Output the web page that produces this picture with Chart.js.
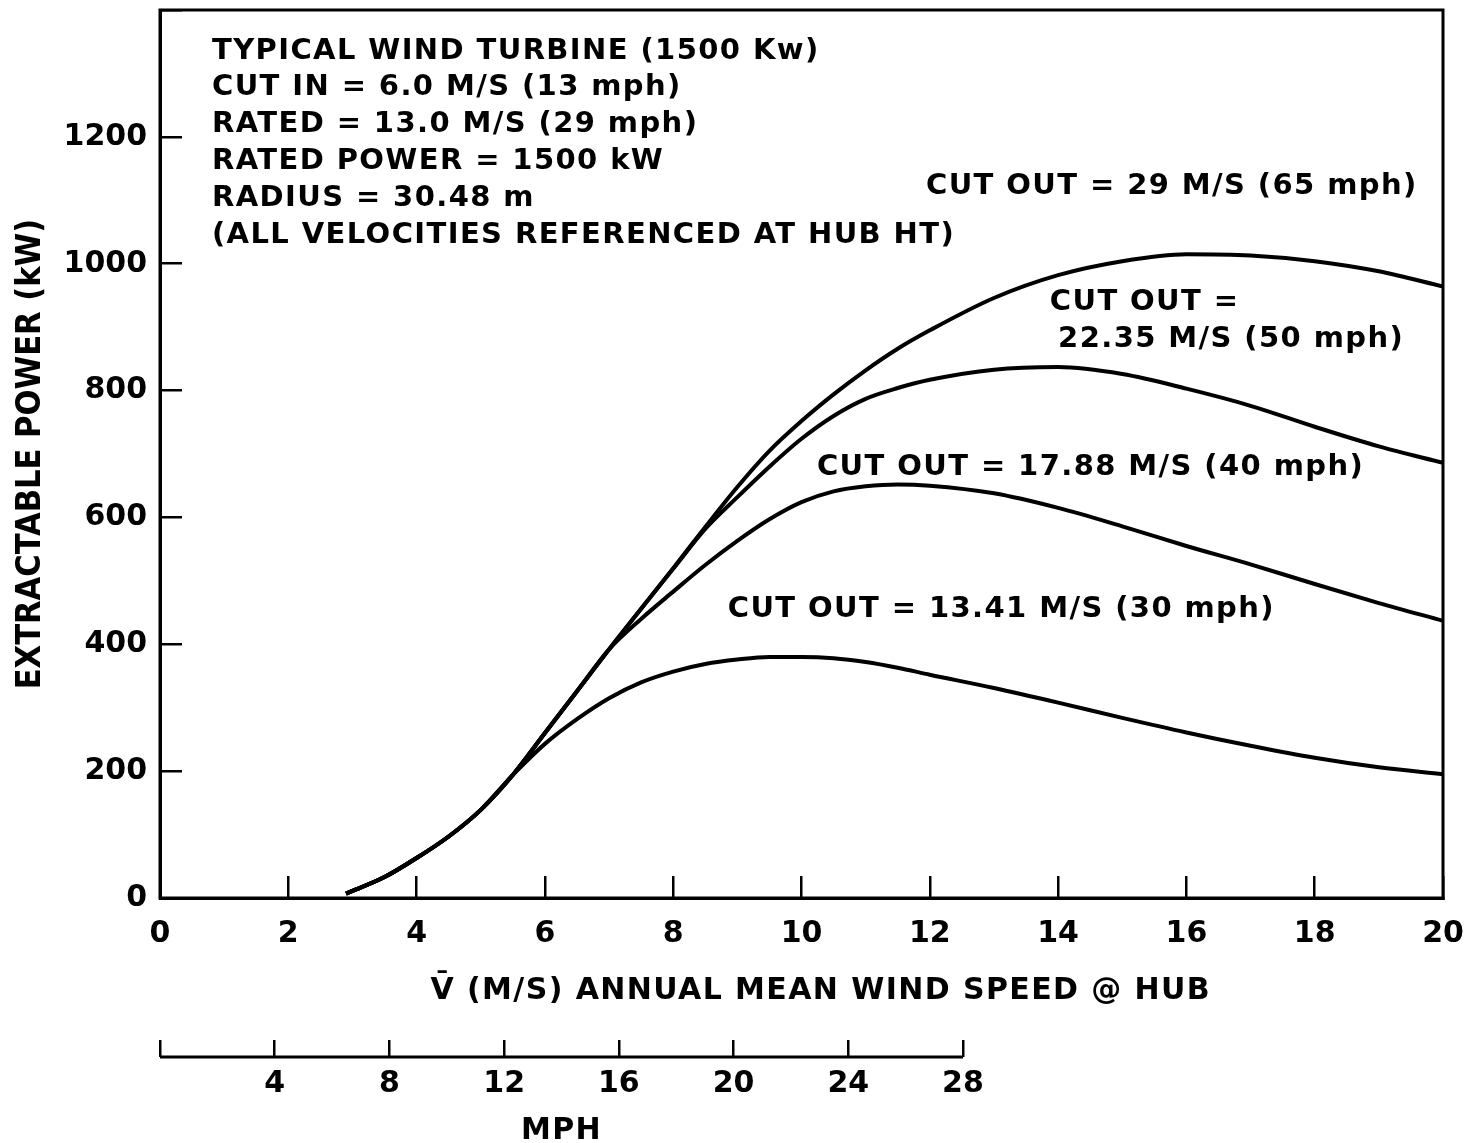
<!DOCTYPE html>
<html>
<head>
<meta charset="utf-8">
<title>Extractable power vs annual mean wind speed</title>
<script src="https://cdn.jsdelivr.net/npm/chart.js@4.4.1/dist/chart.umd.min.js"></script>
<style>
  html, body { margin: 0; padding: 0; background: #fff; }
  #wrap { width: 1464px; height: 1143px; }
</style>
</head>
<body>
<div id="wrap"><canvas id="chart" width="1464" height="1143"></canvas></div>
<script>
// annual mean wind speed at hub (m/s)
const speeds = [2.9, 3.5, 4, 4.5, 5, 5.5, 6, 6.5, 7, 7.5, 8, 8.5, 9, 9.5, 10, 10.5, 11, 11.5, 12, 13, 14, 15, 16, 17, 18, 19, 20];

// extractable power (kW) for each cut-out speed
const power30 = [7, 33, 63, 97, 139, 194, 243, 282, 315, 340, 357, 369, 376, 380, 380, 378, 372, 363, 352, 331, 308, 284, 261, 240, 221, 206, 195];
const power40 = [7, 33, 63, 97, 139, 194, 260, 326, 392, 440, 483, 525, 563, 597, 624, 641, 649, 652, 650, 638, 615, 586, 555, 526, 495, 465, 437];
const power50 = [7, 33, 63, 97, 139, 194, 260, 326, 392, 456, 519, 582, 632, 680, 724, 760, 787, 804, 817, 833, 837, 826, 803, 776, 743, 712, 686];
const power65 = [7, 33, 63, 97, 139, 194, 260, 326, 392, 456, 520, 585, 648, 705, 752, 794, 832, 866, 895, 946, 982, 1004, 1015, 1013, 1004, 988, 964];

const seriesNames = ['13.41 M/S', '17.88 M/S', '22.35 M/S', '29 M/S'];
const mphTicks = [0, 4, 8, 12, 16, 20, 24, 28];
const MPH_PER_MS = 2.23694;

const infoLines = [
  'TYPICAL WIND TURBINE (1500 Kw)',
  'CUT IN = 6.0 M/S (13 mph)',
  'RATED = 13.0 M/S (29 mph)',
  'RATED POWER = 1500 kW',
  'RADIUS = 30.48 m',
  '(ALL VELOCITIES REFERENCED AT HUB HT)'
];

// curve labels, anchored at (speed, power)
const curveLabels = [
  { text: 'CUT OUT = 29 M/S (65 mph)', x: 11.94, y: 1126 },
  { text: 'CUT OUT =', x: 13.87, y: 944 },
  { text: '22.35 M/S (50 mph)', x: 14.0, y: 886 },
  { text: 'CUT OUT = 17.88 M/S (40 mph)', x: 10.24, y: 683 },
  { text: 'CUT OUT = 13.41 M/S (30 mph)', x: 8.85, y: 459 }
];

const FAMILY = "'DejaVu Sans', sans-serif";
const tickFont = { family: FAMILY, size: 30, weight: 'bold' };
const INK = '#000';
const BASE_NUDGE = 3; // middle baseline sits a little high in DejaVu

const toPoints = (ys) => speeds.map((s, i) => ({ x: s, y: ys[i] }));

const killPadding = (s) => {
  s.paddingLeft = 0;
  s.paddingRight = 0;
  s.paddingTop = 0;
  s.paddingBottom = 0;
};

// frame, mph bracket and all the text notes
const notesPlugin = {
  id: 'notes',
  afterDraw(chart) {
    const { ctx, chartArea, scales } = chart;
    const x = scales.x, y = scales.y, mph = scales.mph;

    ctx.save();
    ctx.strokeStyle = INK;
    ctx.lineWidth = 3;
    ctx.strokeRect(chartArea.left, chartArea.top, chartArea.right - chartArea.left, chartArea.bottom - chartArea.top);

    // mph bracket under the main axis
    const m0 = mph.getPixelForValue(0);
    const m1 = mph.getPixelForValue(28);
    ctx.beginPath();
    ctx.moveTo(m0, mph.top);
    ctx.lineTo(m1, mph.top);
    ctx.stroke();

    ctx.fillStyle = INK;
    ctx.letterSpacing = '1.4px';
    ctx.textBaseline = 'middle';

    ctx.font = `bold 30px ${FAMILY}`;
    ctx.textAlign = 'center';
    ctx.fillText('MPH', (m0 + m1) / 2, 1128 + BASE_NUDGE);
    ctx.fillText('V\u0304 (M/S) ANNUAL MEAN WIND SPEED @ HUB', x.getPixelForValue(10.3), 988 + BASE_NUDGE);

    ctx.font = `bold 29px ${FAMILY}`;
    ctx.textAlign = 'left';
    const ix = x.getPixelForValue(0.81);
    const iy = y.getPixelForValue(1340) + BASE_NUDGE;
    infoLines.forEach((line, i) => {
      ctx.fillText(line, ix, iy + i * 36.8);
    });

    curveLabels.forEach((l) => {
      ctx.fillText(l.text, x.getPixelForValue(l.x), y.getPixelForValue(l.y) + BASE_NUDGE);
    });
    ctx.restore();
  }
};

const datasets = [power30, power40, power50, power65].map((ys, i) => ({
  label: seriesNames[i],
  data: toPoints(ys),
  borderColor: INK,
  borderWidth: 4,
  pointRadius: 0,
  fill: false,
  cubicInterpolationMode: 'monotone'
}));

new Chart(document.getElementById('chart'), {
  type: 'line',
  data: { datasets },
  plugins: [notesPlugin],
  options: {
    responsive: false,
    animation: false,
    layout: { padding: { top: 10, right: 21, bottom: 0, left: 0 } },
    plugins: {
      legend: { display: false },
      tooltip: { enabled: false }
    },
    scales: {
      x: {
        type: 'linear',
        position: 'bottom',
        weight: 0,
        min: 0,
        max: 20,
        afterFit: (s) => { s.height = 159; killPadding(s); },
        border: { color: INK, width: 3 },
        grid: { drawOnChartArea: false, color: INK, lineWidth: 2.5, tickLength: -22 },
        ticks: {
          stepSize: 2,
          color: INK,
          font: tickFont,
          padding: 40,
          maxRotation: 0,
          autoSkip: false,
          callback: (v) => String(v)
        }
      },
      mph: {
        type: 'linear',
        axis: 'x',
        position: 'bottom',
        weight: 1,
        min: 0,
        max: 20 * MPH_PER_MS,
        afterBuildTicks: (s) => { s.ticks = mphTicks.map((v) => ({ value: v })); },
        afterFit: (s) => { s.height = 86; killPadding(s); },
        border: { display: false },
        grid: { drawOnChartArea: false, color: INK, lineWidth: 2.5, tickLength: -17 },
        ticks: {
          color: INK,
          font: tickFont,
          padding: 26,
          maxRotation: 0,
          autoSkip: false,
          callback: (v) => (v === 0 ? '' : String(v))
        }
      },
      y: {
        type: 'linear',
        min: 0,
        max: 1400,
        afterFit: (s) => { s.width = 160; killPadding(s); },
        border: { color: INK, width: 3 },
        grid: { drawOnChartArea: false, color: INK, lineWidth: 2.5, tickLength: -22 },
        ticks: {
          stepSize: 200,
          color: INK,
          font: tickFont,
          padding: 35,
          callback: (v) => (v > 1200 ? '' : String(v))
        },
        title: {
          display: true,
          text: 'EXTRACTABLE POWER (kW)',
          color: INK,
          font: { family: "'DejaVu Sans Condensed', " + FAMILY, size: 34, weight: 'bold' },
          padding: { top: 11, bottom: 0 }
        }
      }
    }
  }
});
</script>
</body>
</html>
